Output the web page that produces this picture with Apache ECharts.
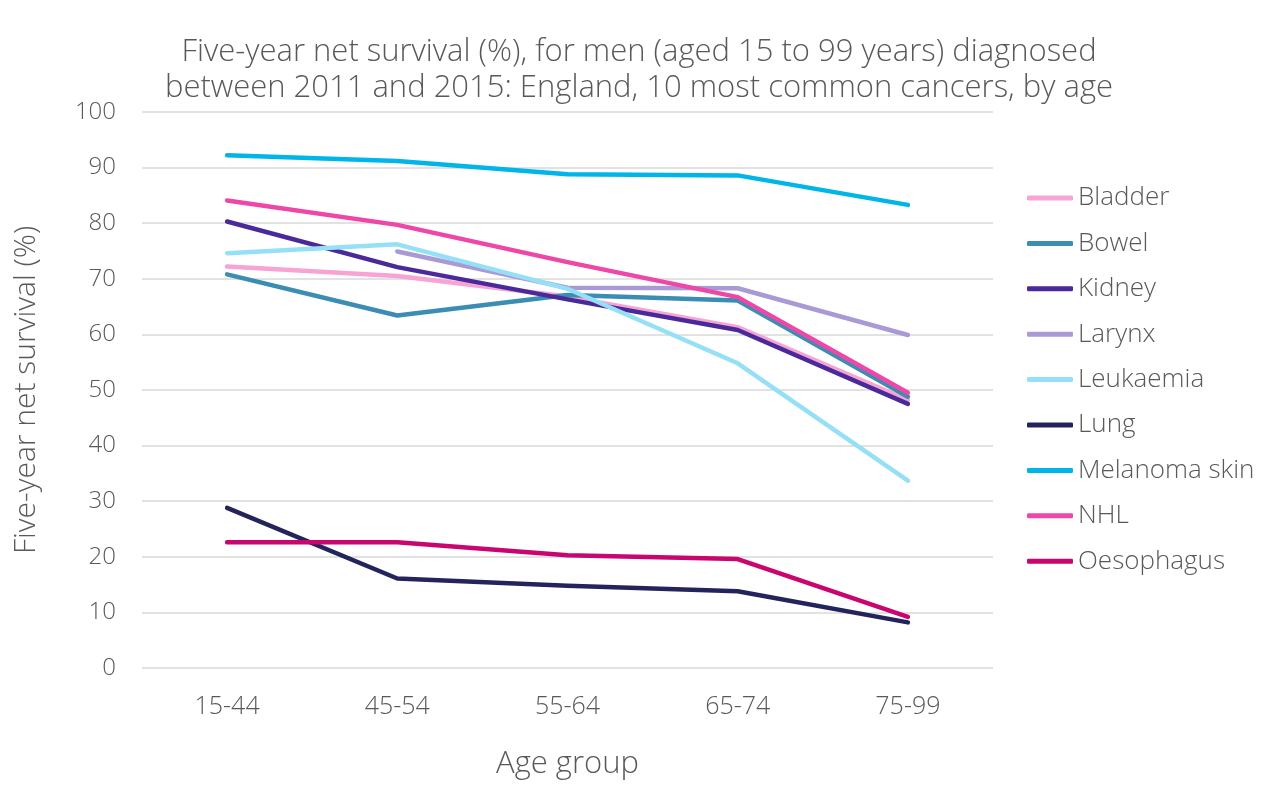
<!DOCTYPE html>
<html>

<head>
    <meta charset="utf-8">
    <script src="https://cdn.jsdelivr.net/npm/echarts@6/dist/echarts.min.js"></script>
</head>

<body>
    <div id="chart"></div>
</body>
<style>
    body {
        margin: 0;
        background: #fff;
    }

    #chart {
        width: 1271px;
        height: 785px;
    }
</style>
<script>
    const ageGroups = ['15-44', '45-54', '55-64', '65-74', '75-99']
    const yTicks = [0, 10, 20, 30, 40, 50, 60, 70, 80, 90, 100]

    const cancers = ['Bladder', 'Bowel', 'Kidney', 'Larynx', 'Leukaemia', 'Lung', 'Melanoma skin', 'NHL', 'Oesophagus']
    const colours = ['#f7a3d3', '#3b8db3', '#4a2a9b', '#a99ad5', '#95e0f6', '#24245c', '#00b5e8', '#ef47a8', '#c9066f']

    const bladder = [72.2, 70.5, 66.8, 61.3, 48.2]
    const bowel = [70.8, 63.4, 67.1, 66.1, 48.8]
    const kidney = [80.3, 72.1, 66.3, 60.8, 47.5]
    const larynx = [null, 74.9, 68.4, 68.3, 59.9]
    const leukaemia = [74.6, 76.2, 68.2, 54.8, 33.7]
    const lung = [28.8, 16.1, 14.8, 13.8, 8.2]
    const melanoma = [92.2, 91.2, 88.8, 88.6, 83.3]
    const nhl = [84.1, 79.7, 73.0, 66.7, 49.5]
    const oesophagus = [22.6, 22.6, 20.3, 19.6, 9.2]

    const values = [bladder, bowel, kidney, larynx, leukaemia, lung, melanoma, nhl, oesophagus]

    const font = '"Open Sans", Lato, sans-serif'
    const weight = 300
    const grey = '#595959'

    const chart = echarts.init(document.getElementById('chart'))

    let series = cancers.map((name, i) => {
        return {
            name,
            type: 'line',
            data: values[i],
            showSymbol: false,
            symbol: 'none',
            lineStyle: {
                color: colours[i],
                width: 4.5,
                cap: 'round',
                join: 'round'
            },
            itemStyle: { color: colours[i] }
        }
    })

    let option = {
        animation: false,
        title: {
            text: 'Five-year net survival (%), for men (aged 15 to 99 years) diagnosed\nbetween 2011 and 2015: England, 10 most common cancers, by age',
            left: 634,
            textAlign: 'center',
            top: 29,
            textStyle: {
                fontFamily: font,
                fontWeight: weight,
                fontSize: 31,
                lineHeight: 36,
                color: grey
            }
        },
        legend: {
            orient: 'vertical',
            left: 1022,
            top: 180,
            itemWidth: 46,
            itemHeight: 5,
            itemGap: 19.4,
            icon: 'roundRect',
            data: cancers,
            textStyle: {
                fontFamily: font,
                fontWeight: weight,
                fontSize: 26,
                lineHeight: 26,
                color: grey
            }
        },
        grid: {
            left: 142,
            right: 278,
            top: 112,
            bottom: 110
        },
        xAxis: {
            type: 'category',
            data: ageGroups,
            name: 'Age group',
            nameLocation: 'middle',
            nameGap: 81,
            nameTextStyle: {
                fontFamily: font,
                fontWeight: weight,
                fontSize: 31,
                color: grey
            },
            axisLine: { show: false },
            axisTick: { show: false },
            axisLabel: {
                margin: 26,
                fontFamily: font,
                fontWeight: weight,
                fontSize: 25,
                color: grey
            }
        },
        yAxis: {
            type: 'value',
            min: yTicks[0],
            max: yTicks[yTicks.length - 1],
            interval: 10,
            name: 'Five-year net survival (%)',
            nameLocation: 'middle',
            nameGap: 101,
            nameTextStyle: {
                fontFamily: font,
                fontWeight: weight,
                fontSize: 30,
                color: grey
            },
            axisLine: { show: false },
            axisTick: { show: false },
            splitLine: {
                lineStyle: { color: '#d9d9d9', width: 1.5 }
            },
            axisLabel: {
                margin: 26,
                fontFamily: font,
                fontWeight: weight,
                fontSize: 24,
                color: grey
            }
        },
        series
    }

    chart.setOption(option)
</script>

</html>
